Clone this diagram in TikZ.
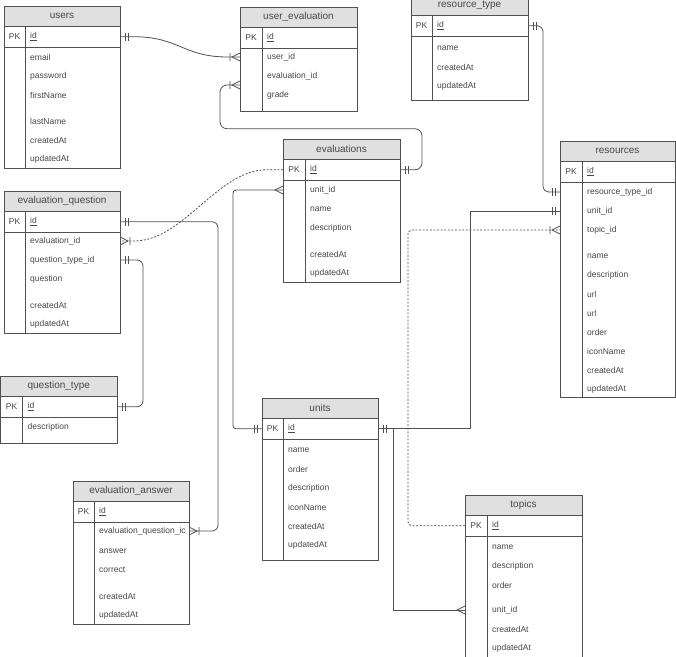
\documentclass[tikz,border=0pt]{standalone}
\usepackage{fontspec}
\setmainfont{Liberation Sans}
\usetikzlibrary{calc}
\definecolor{bordc}{HTML}{505050}
\definecolor{hdrc}{HTML}{E0E0E0}
\definecolor{txtc}{HTML}{474747}
\definecolor{conc}{HTML}{505050}
\tikzset{
 tline/.style={draw=bordc, line width=0.8pt},
 fld/.style={font=\fontsize{8.5}{10}\selectfont, text=txtc, inner sep=0pt, anchor=west},
 ttl/.style={font=\fontsize{10}{12}\selectfont, text=txtc, inner sep=0pt},
 conn/.style={draw=conc, line width=0.8pt},
 dconn/.style={conn, dash pattern=on 2pt off 1.6pt},
 mkone/.pic={\draw[conn] (5,-4)--(5,4) (8,-4)--(8,4);},
 mkmany/.pic={\draw[conn] (0,-4)--(8,0)--(0,4);},
 mkonemany/.pic={\draw[conn] (0,-4)--(8,0)--(0,4) (10,-4)--(10,4);},
}
% #1 name, #2 x, #3 y, #4 width, #5 height, #6 column offset, #7 title
\newcommand\ertable[7]{%
 \fill[hdrc] (#2,#3) rectangle ++(#4,20);
 \node[tline, minimum width=#4pt, minimum height=#5pt, anchor=north west, inner sep=0pt, outer sep=0pt] (#1) at (#2,#3) {};
 \draw[tline] (#2,{#3+20}) -- ++(#4,0);
 \draw[tline] (#2,{#3+41.5}) -- ++(#4,0);
 \draw[tline] ({#2+#6},{#3+20}) -- ({#2+#6},{#3+#5});
 \node[ttl] (#1-t) at ({#2+#4/2},{#3+10}) {#7};
 \node[fld, anchor=center] (#1-pk) at ({#2+#6/2},{#3+30.75}) {PK};
 \node[fld] (#1-id) at ({#2+#6+5},{#3+30.75}) {\underline{id}};
}
\newcommand\fl[4]{\node[fld] (#1) at (#2,#3) {#4};}
\begin{document}
\begin{tikzpicture}[x=1pt,y=-1pt]
\useasboundingbox[fill=white] (0,0) rectangle (676,656);

% users
\ertable{users}{4}{6}{116}{162}{21}{users}
\fl{users-email}{30}{57}{email}
\fl{users-pw}{30}{76}{password}
\fl{users-fn}{30}{95}{firstName}
\fl{users-ln}{30}{121}{lastName}
\fl{users-ca}{30}{140}{createdAt}
\fl{users-ua}{30}{159}{updatedAt}

% user_evaluation
\ertable{ue}{240}{7}{117}{104}{22}{user\_evaluation}
\fl{ue-uid}{267}{57}{user\_id}
\fl{ue-eid}{267}{76}{evaluation\_id}
\fl{ue-gr}{267}{95}{grade}

% resource_type
\ertable{rt}{411}{-5}{117}{105}{21}{resource\_type}
\fl{rt-nm}{437}{48}{name}
\fl{rt-ca}{437}{67}{createdAt}
\fl{rt-ua}{437}{86}{updatedAt}

% evaluations
\ertable{ev}{283}{139}{117}{143}{22}{evaluations}
\fl{ev-uid}{310}{190}{unit\_id}
\fl{ev-nm}{310}{209}{name}
\fl{ev-ds}{310}{228}{description}
\fl{ev-ca}{310}{254}{createdAt}
\fl{ev-ua}{310}{273}{updatedAt}

% resources
\ertable{res}{560}{141}{115}{256}{22}{resources}
\fl{res-rtid}{587}{192}{resource\_type\_id}
\fl{res-uid}{587}{211}{unit\_id}
\fl{res-tid}{587}{230}{topic\_id}
\fl{res-nm}{587}{256}{name}
\fl{res-ds}{587}{275}{description}
\fl{res-u1}{587}{294}{url}
\fl{res-u2}{587}{313}{url}
\fl{res-or}{587}{332}{order}
\fl{res-ic}{587}{351}{iconName}
\fl{res-ca}{587}{370}{createdAt}
\fl{res-ua}{587}{389}{updatedAt}

% evaluation_question
\ertable{eq}{4}{191}{116}{142}{21}{evaluation\_question}
\fl{eq-eid}{30}{241}{evaluation\_id}
\fl{eq-qt}{30}{260}{question\_type\_id}
\fl{eq-q}{30}{279}{question}
\fl{eq-ca}{30}{305}{createdAt}
\fl{eq-ua}{30}{324}{updatedAt}

% question_type
\ertable{qt}{0.5}{376}{116.5}{67}{22}{question\_type}
\fl{qt-ds}{27.5}{427}{description}

% units
\ertable{units}{262}{398}{116}{162}{21}{units}
\fl{units-nm}{288}{450}{name}
\fl{units-or}{288}{469}{order}
\fl{units-ds}{288}{488}{description}
\fl{units-ic}{288}{507}{iconName}
\fl{units-ca}{288}{526}{createdAt}
\fl{units-ua}{288}{545}{updatedAt}

% evaluation_answer
\ertable{ea}{73}{481}{116}{143}{21}{evaluation\_answer}
\fl{ea-qid}{99}{531}{evaluation\_question\_ic}
\fl{ea-an}{99}{551}{answer}
\fl{ea-co}{99}{570}{correct}
\fl{ea-ca}{99}{596}{createdAt}
\fl{ea-ua}{99}{615}{updatedAt}

% topics
\ertable{topics}{465}{495}{117}{165}{22}{topics}
\fl{topics-nm}{492}{547}{name}
\fl{topics-ds}{492}{566}{description}
\fl{topics-or}{492}{585}{order}
\fl{topics-uid}{492}{610}{unit\_id}
\fl{topics-ca}{492}{629}{createdAt}
\fl{topics-ua}{492}{648}{updatedAt}

% ---------- connectors ----------
\coordinate (ue-eatt) at ($(ue.west |- ue-eid)+(0,9)$);

% users.id -> user_evaluation.user_id
\draw[conn] (users.east |- users-id) -- ++(14,0) .. controls +(45,0) and +(-45,0) .. ($(ue.west |- ue-uid)+(-12,0)$) -- (ue.west |- ue-uid);
\pic at (users.east |- users-id) {mkone};
\pic[rotate=180] at (ue.west |- ue-uid) {mkonemany};

% evaluations.id -> user_evaluation.evaluation_id
\draw[conn, rounded corners=7pt] (ev.east |- ev-id) -- ++(22,0) -- ++(0,-41) -| ($(ue-eatt)+(-20,0)$) -- (ue-eatt);
\pic at (ev.east |- ev-id) {mkone};
\pic[rotate=180] at (ue-eatt) {mkonemany};

% resource_type.id -> resources.resource_type_id
\draw[conn, rounded corners=6pt] (rt.east |- rt-id) -- ++(15,0) |- (res.west |- res-rtid);
\pic at (rt.east |- rt-id) {mkone};
\pic[rotate=180] at (res.west |- res-rtid) {mkone};

% units.id -> resources.unit_id
\draw[conn] (units.east |- units-id) -| ($(res.west |- res-uid)+(-90,0)$) -- (res.west |- res-uid);
\pic at (units.east |- units-id) {mkone};
\pic[rotate=180] at (res.west |- res-uid) {mkone};

% units.id -> topics.unit_id
\draw[conn] ($(units.east |- units-id)+(15,0)$) |- (topics.west |- topics-uid);
\pic[rotate=180] at (topics.west |- topics-uid) {mkmany};

% topics.id -> resources.topic_id (dashed)
\draw[dconn, rounded corners=4pt] (topics.west |- topics-id) -- ++(-57,0) |- (res.west |- res-tid);
\pic[rotate=180] at (res.west |- res-tid) {mkonemany};

% units.id -> evaluations.unit_id
\draw[conn, rounded corners=3pt] (units.west |- units-id) -- ++(-29,0) |- (ev.west |- ev-uid);
\pic[rotate=180] at (units.west |- units-id) {mkone};
\pic[rotate=180] at (ev.west |- ev-uid) {mkmany};

% evaluations.id -> evaluation_question.evaluation_id (dashed)
\draw[dconn] (ev.west |- ev-id) -- ++(-16,0) .. controls +(-50,0) and +(50,0) .. ($(eq.east |- eq-eid)+(14,0)$) -- (eq.east |- eq-eid);
\pic at (eq.east |- eq-eid) {mkonemany};

% evaluation_question.id -> evaluation_answer.evaluation_question_id
\draw[conn, rounded corners=6pt] (eq.east |- eq-id) -- ++(98,0) |- (ea.east |- ea-qid);
\pic at (eq.east |- eq-id) {mkone};
\pic at (ea.east |- ea-qid) {mkonemany};

% question_type.id -> evaluation_question.question_type_id
\draw[conn, rounded corners=6pt] (eq.east |- eq-qt) -- ++(23,0) |- (qt.east |- qt-id);
\pic at (eq.east |- eq-qt) {mkone};
\pic at (qt.east |- qt-id) {mkone};
\end{tikzpicture}
\end{document}
